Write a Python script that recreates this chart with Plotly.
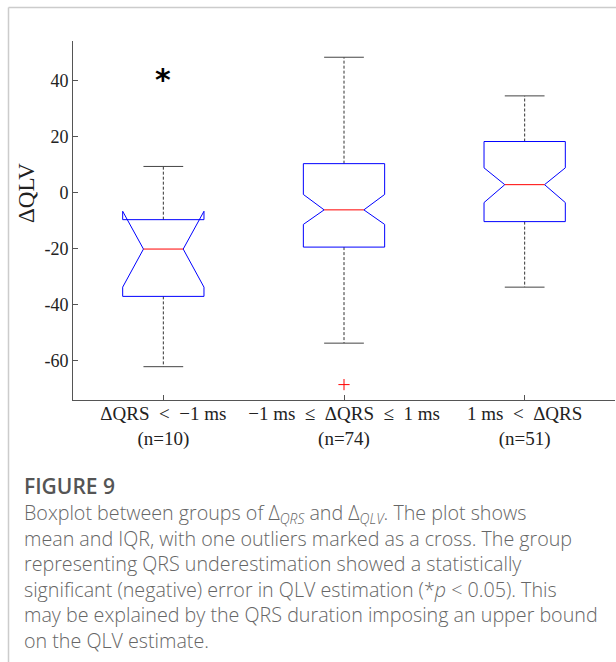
import plotly.graph_objects as go

# ---- data ----
groups = [1, 2, 3]
tick_labels = ["ΔQRS\u2002<\u2002−1\u2005ms<br>(n=10)",
               "−1\u2005ms\u2002≤\u2002ΔQRS\u2002≤\u20021\u2005ms<br>(n=74)",
               "1\u2005ms\u2002<\u2002ΔQRS<br>(n=51)"]
n_obs = [10, 74, 51]
q1 = [-37.0, -19.4, -10.3]
median = [-20.1, -6.1, 2.9]
q3 = [-9.6, 10.4, 18.3]
notch_lo = [-33.7, -11.3, -3.5]
notch_hi = [-6.6, -0.6, 8.9]
whisker_lo = [-62.1, -53.7, -33.7]
whisker_hi = [9.4, 48.4, 34.6]
outlier_x = [2]
outlier_y = [-68.5]
signif_x = [1]
signif_y = [41.9]
y_ticks = [-60, -40, -20, 0, 20, 40]
y_tick_labels = ["-60", "-40", "-20", "0", "20", "40"]

caption_title = "FIGURE 9"
caption_lines = [
    "Boxplot between groups of Δ<sub><i>QRS</i></sub> and Δ<sub><i>QLV</i></sub>. The plot shows",
    "mean and IQR, with one outliers marked as a cross. The group",
    "representing QRS underestimation showed a statistically",
    "significant (negative) error in QLV estimation (*<i>p</i> &lt; 0.05). This",
    "may be explained by the QRS duration imposing an upper bound",
    "on the QLV estimate.",
]

# ---- geometry / style ----
W, H = 616, 662
ML, MR, MT, MB = 73, 1, 41, 262
PW, PH = W - ML - MR, H - MT - MB
BOX_HW = 0.225
NOTCH_HW = 0.11
CAP_HW = 0.11
BLUE = "#0000FF"
RED = "#FF0000"
AX = "#555555"
SERIF = "Liberation Serif"
TXT = "#222222"


def px_x(px):
    return (px - ML) / PW


def px_y(py):
    return (H - MB - py) / PH


fig = go.Figure()

for i, p in enumerate(groups):
    # whiskers (dashed)
    fig.add_trace(go.Scatter(
        x=[p, p, None, p, p], y=[q3[i], whisker_hi[i], None, q1[i], whisker_lo[i]],
        mode="lines", line=dict(color="#333333", width=1, dash="3px,2px"),
        hoverinfo="skip", showlegend=False))
    # caps
    fig.add_trace(go.Scatter(
        x=[p - CAP_HW, p + CAP_HW, None, p - CAP_HW, p + CAP_HW],
        y=[whisker_hi[i], whisker_hi[i], None, whisker_lo[i], whisker_lo[i]],
        mode="lines", line=dict(color="#444444", width=1),
        hoverinfo="skip", showlegend=False))
    # notched box
    bx = [p - BOX_HW, p - BOX_HW, p - NOTCH_HW, p - BOX_HW, p - BOX_HW,
          p + BOX_HW, p + BOX_HW, p + NOTCH_HW, p + BOX_HW, p + BOX_HW, p - BOX_HW]
    by = [q1[i], notch_lo[i], median[i], notch_hi[i], q3[i],
          q3[i], notch_hi[i], median[i], notch_lo[i], q1[i], q1[i]]
    fig.add_trace(go.Scatter(x=bx, y=by, mode="lines",
                             line=dict(color=BLUE, width=1),
                             hoverinfo="skip", showlegend=False))
    # median
    fig.add_trace(go.Scatter(x=[p - NOTCH_HW, p + NOTCH_HW], y=[median[i], median[i]],
                             mode="lines", line=dict(color=RED, width=1),
                             hoverinfo="skip", showlegend=False))

# outliers
fig.add_trace(go.Scatter(x=outlier_x, y=outlier_y, mode="markers",
                         marker=dict(symbol="cross-thin", size=8,
                                     line=dict(color=RED, width=1)),
                         hoverinfo="skip", showlegend=False))

annotations = [
    # significance star
    dict(text="<b>*</b>", x=signif_x[0], y=signif_y[0], xref="x", yref="y",
         showarrow=False, yshift=-4, xanchor="center", yanchor="middle",
         font=dict(family="DejaVu Sans", size=30, color="#000000")),
    dict(text="ΔQLV", x=px_x(26), y=px_y(193), xref="paper", yref="paper",
         showarrow=False, textangle=-90, font=dict(family=SERIF, size=23, color=TXT),
         xanchor="center", yanchor="middle"),
    dict(text=caption_title, x=px_x(22), y=px_y(486), xref="paper", yref="paper",
         showarrow=False, font=dict(family="Open Sans", size=21, color="#555555", weight=600),
         xanchor="left", yanchor="middle"),
    dict(text="<br>".join(caption_lines), x=px_x(22), y=px_y(576), xref="paper", yref="paper",
         showarrow=False, align="left",
         font=dict(family="Open Sans", size=19.7, color="#666666", weight=300),
         xanchor="left", yanchor="middle"),
]

shapes = [
    dict(type="line", xref="paper", yref="paper", x0=px_x(8.5), x1=px_x(620),
         y0=px_y(7.5), y1=px_y(7.5), line=dict(color="#cccccc", width=1.5)),
    dict(type="line", xref="paper", yref="paper", x0=px_x(8.5), x1=px_x(8.5),
         y0=px_y(7.5), y1=px_y(670), line=dict(color="#cccccc", width=1.5)),
]

fig.update_layout(
    width=W, height=H,
    margin=dict(l=ML, r=MR, t=MT, b=MB, pad=0),
    paper_bgcolor="white", plot_bgcolor="white",
    xaxis=dict(range=[0.5, 3.5], tickvals=groups, ticktext=tick_labels,
               showline=True, linecolor=AX, linewidth=1, ticks="inside", ticklen=5,
               tickcolor=AX, showgrid=False, zeroline=False, mirror=False,
               ticklabelstandoff=-4,
               tickfont=dict(family=SERIF, size=19, color=TXT)),
    yaxis=dict(range=[-74, 54.2], tickvals=y_ticks, ticktext=y_tick_labels,
               showline=True, linecolor=AX, linewidth=1, ticks="inside", ticklen=5,
               tickcolor=AX, showgrid=False, zeroline=False, mirror=False,
               tickfont=dict(family=SERIF, size=18, color=TXT)),
    annotations=annotations,
    shapes=shapes,
)

fig.write_html("out.html")
